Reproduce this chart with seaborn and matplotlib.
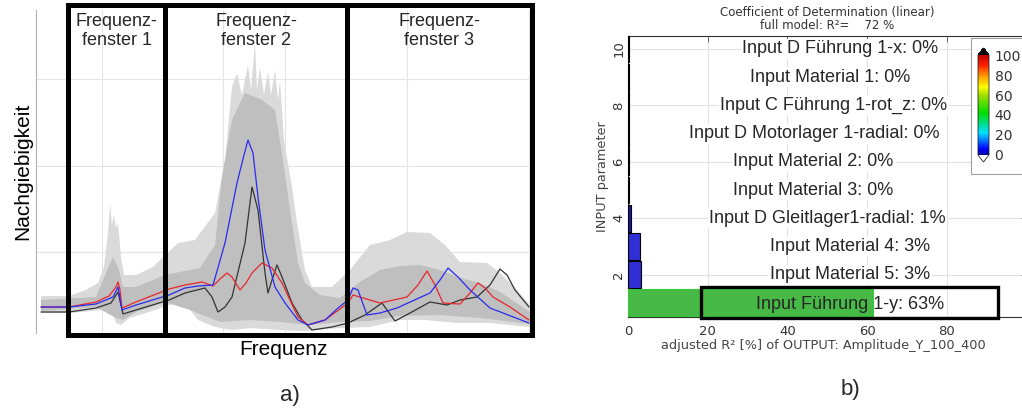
import numpy as np
import pandas as pd
import matplotlib
matplotlib.use("Agg")
import matplotlib.pyplot as plt
import seaborn as sns
from matplotlib.patches import Rectangle
from matplotlib.colors import LinearSegmentedColormap, Normalize
import matplotlib.cm as cm

# ---------------- data: panel a (frequency response curves) ----------------
red_f = [5, 33, 60, 73, 80, 82, 84, 86, 100, 133, 149, 166, 177, 184, 191, 196, 204, 210, 216, 226,
         236, 246, 254, 262, 272, 289, 312, 317, 344, 371, 382, 391, 399, 407, 424, 434, 442, 449, 457,
         474, 493]
red_c = [26, 26, 31, 37, 46, 51, 43, 25, 31, 44, 48, 51, 47, 54, 60, 56, 43, 50, 60, 70,
         65, 50, 33, 16, 8, 13, 30, 38, 30, 36, 48, 62, 48, 30, 29, 40, 50, 45, 36,
         26, 13]

blue_f = [5, 33, 60, 77, 82, 86, 100, 133, 149, 162, 177, 189, 201, 208, 212, 217, 222, 229, 239, 249,
          262, 272, 289, 302, 312, 317, 322, 331, 344, 361, 394, 404, 412, 422, 434, 454, 493]
blue_c = [26, 26, 29, 36, 46, 23, 28, 38, 45, 47, 48, 90, 150, 178, 193, 180, 136, 83, 46, 30,
          13, 8, 13, 25, 33, 45, 43, 18, 20, 25, 40, 53, 65, 56, 43, 25, 10]

black_f = [5, 33, 60, 75, 82, 87, 100, 133, 149, 169, 176, 182, 189, 196, 209, 216, 222, 229, 232, 236,
           241, 246, 256, 266, 276, 296, 312, 329, 346, 359, 374, 394, 411, 424, 441, 454, 464, 471, 479,
           493]
black_c = [21, 21, 25, 30, 41, 19, 23, 33, 40, 45, 36, 21, 26, 36, 90, 146, 123, 60, 40, 53,
           68, 56, 30, 13, 3, 6, 10, 18, 30, 12, 20, 31, 28, 33, 36, 48, 64, 58, 43,
           26]

# envelope of the grey Monte-Carlo curves (outer) and their dense core
env_hi_f = [5, 33, 50, 62, 68, 72, 74, 76, 78, 80, 82, 85, 88, 100, 117, 127, 142, 159, 179, 189,
            196, 201, 206, 212, 215, 219, 221, 224, 228, 232, 235, 239, 242, 244, 248, 256, 261, 269,
            276, 296, 314, 334, 354, 371, 394, 409, 424, 451, 464, 481, 494]
env_hi = [37, 37, 43, 50, 66, 100, 129, 108, 118, 105, 110, 76, 58, 58, 66, 76, 90, 93, 120, 173,
          246, 260, 238, 268, 243, 290, 243, 265, 238, 261, 238, 263, 233, 253, 193, 146, 110, 63,
          46, 46, 63, 88, 93, 101, 100, 88, 71, 70, 60, 43, 28]
env_lo_f = [5, 33, 67, 77, 80, 85, 93, 110, 133, 149, 162, 179, 196, 214, 244, 267, 304, 334, 364, 389,
            421, 454, 494]
env_lo = [20, 20, 23, 20, 10, 8, 15, 20, 28, 30, 13, 6, 3, 5, 3, 2, 5, 6, 13, 13,
          10, 10, 6]

core_hi_f = [5, 60, 70, 77, 83, 87, 100, 129, 164, 179, 186, 196, 209, 226, 239, 247, 254, 262, 269, 284,
             304, 324, 344, 364, 384, 404, 424, 444, 464, 494]
core_hi = [33, 36, 60, 76, 63, 46, 46, 58, 65, 88, 156, 213, 240, 233, 223, 173, 123, 70, 50, 38,
           35, 51, 63, 67, 68, 63, 55, 50, 41, 21]
core_lo_f = [5, 60, 80, 87, 100, 129, 154, 184, 214, 244, 274, 304, 334, 364, 404, 444, 494]
core_lo = [22, 26, 15, 13, 21, 31, 23, 11, 13, 11, 8, 11, 12, 17, 18, 15, 9]

windows = [(32, 129), (129, 311), (311, 496)]
window_names = ["Frequenz-\nfenster 1", "Frequenz-\nfenster 2", "Frequenz-\nfenster 3"]

# ---------------- data: panel b (coefficient of determination) ----------------
params = [1, 2, 3, 4, 5, 6, 7, 8, 9, 10]
r2_adj = [61.5, 3.3, 3.0, 0.8, 0.3, 0.3, 0.2, 0.2, 0.2, 0.2]
param_labels = ["Input Führung 1-y: 63%", "Input Material 5: 3%", "Input Material 4: 3%",
                "Input D Gleitlager1-radial: 1%", "Input Material 3: 0%", "Input Material 2: 0%",
                "Input D Motorlager 1-radial: 0%", "Input C Führung 1-rot_z: 0%",
                "Input Material 1: 0%", "Input D Führung 1-x: 0%"]
bar_colors = ["#33cc33", "#1414f0", "#1414f0", "#0000c0", "#000090", "#000090",
              "#000040", "#000030", "#000020", "#000020"]
x_ticks_b = [0, 20, 40, 60, 80]
y_ticks_b = [2, 4, 6, 8, 10]
cbar_ticks = [0, 20, 40, 60, 80, 100]

# ---------------- figure ----------------
W, H = 1022, 409
sns.set_theme(style="white")
plt.rcParams["font.family"] = ["Liberation Sans", "DejaVu Sans"]
fig = plt.figure(figsize=(W / 100, H / 100), dpi=100)

def fx(px):
    return px / W

def fy(py):
    return (H - py) / H

# ===== panel a =====
ax = fig.add_axes([fx(36), fy(333), (530 - 36) / W, (333 - 10) / H])

ax.fill(np.r_[env_hi_f, env_lo_f[::-1]], np.r_[env_hi, env_lo[::-1]],
        color="#dadada", lw=0, zorder=1)
ax.fill(np.r_[core_hi_f, core_lo_f[::-1]], np.r_[core_hi, core_lo[::-1]],
        color="#bfbfbf", lw=0, zorder=1.5)

sns.lineplot(x=black_f, y=black_c, color="#333333", lw=0.9, ax=ax, zorder=3)
sns.lineplot(x=red_f, y=red_c, color="#e8262b", lw=0.9, ax=ax, zorder=4)
sns.lineplot(x=blue_f, y=blue_c, color="#2b2bf0", lw=0.9, ax=ax, zorder=5)

ax.set_xlim(0, 494)
ax.set_ylim(0, 323)
ax.set_xticks([66, 187, 249, 371, 493])
ax.set_yticks([81, 167, 254])
ax.grid(True, color="#e4e4e4", lw=0.8)
ax.tick_params(length=0, labelbottom=False, labelleft=False)
for s in ["top", "right", "bottom"]:
    ax.spines[s].set_visible(False)
ax.spines["left"].set_color("#b0b0b0")
ax.spines["left"].set_linewidth(0.8)

for (x0, x1), name in zip(windows, window_names):
    ax.add_patch(Rectangle((x0, -2), x1 - x0, 330, fill=False, edgecolor="black",
                           lw=3.6, clip_on=False, zorder=10))
    ax.text((x0 + x1) / 2, 320, name, ha="center", va="top", fontsize=13,
            linespacing=1.15, zorder=11)

ax.set_ylabel("Nachgiebigkeit", fontsize=15, visible=True, color="black")
ax.yaxis.set_label_coords(-0.008, 0.5)
ax.set_xlabel("Frequenz", fontsize=15, visible=True, color="black")
ax.xaxis.set_label_coords(0.5, -0.022)
fig.text(fx(290), fy(395), "a)", ha="center", va="center", fontsize=16)

# ===== panel b =====
xmin_b, xmax_b = 0, 100
axb = fig.add_axes([fx(628), fy(317), (1026.5 - 628) / W, (317 - 36) / H])
df = pd.DataFrame({"param": params, "r2": r2_adj})
sns.barplot(data=df, x="r2", y="param", hue="param", orient="h", native_scale=True,
            palette=dict(zip(params, bar_colors)), legend=False, width=0.95,
            edgecolor="black", linewidth=0.8, dodge=False, ax=axb, zorder=3)
for p, c in zip(axb.patches, bar_colors):
    if c == "#33cc33":
        p.set_edgecolor(c)
axb.set_xlim(xmin_b, xmax_b)
axb.set_ylim(0.5, 10.46)
axb.set_xticks(x_ticks_b)
axb.set_yticks(y_ticks_b)
axb.set_xticklabels([str(v) for v in x_ticks_b], fontsize=9.5, color="#333333",
                    family="DejaVu Sans")
axb.set_yticklabels([str(v) for v in y_ticks_b], fontsize=9.5, color="#333333",
                    family="DejaVu Sans", rotation=90, va="center")
axb.tick_params(direction="in", length=4, top=True, right=True, color="#555555",
                width=0.6)
axb.tick_params(axis="y", pad=2)
axb.tick_params(axis="x", pad=6)
axb.grid(True, color="#e2e2e2", lw=0.8, zorder=0)
axb.set_axisbelow(True)
for s in axb.spines.values():
    s.set_color("#333333")
    s.set_linewidth(0.8)

label_x = [55.6, 55.6, 55.6, 50.1, 46.5, 46.5, 46.8, 51.6, 50.6, 53.3]
for p, lab, lx in zip(params, param_labels, label_x):
    if p == 1:
        axb.text(lx, p - 0.06, lab, ha="center", va="center", fontsize=13, zorder=6,
                 family="Liberation Sans")
    else:
        axb.text(lx, p, lab, ha="center", va="center", fontsize=13, zorder=6,
                 family="Liberation Sans",
                 bbox=dict(facecolor="white", edgecolor="none", pad=1.0))
axb.add_patch(Rectangle((18.4, 0.48), 74.4, 1.1, fill=False, edgecolor="black",
                        lw=2.4, clip_on=False, zorder=8))

axb.set_title("Coefficient of Determination (linear)\nfull model: R²=    72 %",
              fontsize=8.5, color="#333333", family="DejaVu Sans", pad=5,
              linespacing=1.0)
axb.set_xlabel("adjusted R² [%] of OUTPUT: Amplitude_Y_100_400", fontsize=9.3,
               color="#444444", family="DejaVu Sans")
axb.xaxis.set_label_coords((823 - 628) / (1026.5 - 628), -0.078)
axb.set_ylabel("INPUT parameter", fontsize=9.3, color="#444444", family="DejaVu Sans")
axb.yaxis.set_label_coords((609 - 628) / (1026.5 - 628), 0.5)

# colorbar with its white frame
fig.patches.append(Rectangle((fx(971), fy(174)), 60 / W, (174 - 38) / H,
                             transform=fig.transFigure, facecolor="white",
                             edgecolor="#a0a0a0", lw=0.8, zorder=1))
cmap = LinearSegmentedColormap.from_list(
    "jetlike",
    [(0.0, "#0000a0"), (0.06, "#0000ff"), (0.22, "#00e0ff"), (0.42, "#00dd00"),
     (0.6, "#a0e000"), (0.68, "#ffff00"), (0.8, "#ff9000"), (0.9, "#ff2000"),
     (1.0, "#c00000")])
cmap.set_over("black")
cmap.set_under("white")
cax = fig.add_axes([fx(978), fy(162), 11 / W, (162 - 48) / H])
cax.set_zorder(2)
sm = cm.ScalarMappable(norm=Normalize(0, 100), cmap=cmap)
cb = fig.colorbar(sm, cax=cax, extend="both", extendfrac=0.07, ticks=cbar_ticks)
cb.outline.set_linewidth(0.6)
cax.tick_params(labelsize=10, length=3, direction="in", color="#333333", pad=4)
for t in cax.get_yticklabels():
    t.set_family("DejaVu Sans")
    t.set_color("#333333")

fig.text(fx(850), fy(390), "b)", ha="center", va="center", fontsize=16)

fig.savefig("out.png", dpi=100)
